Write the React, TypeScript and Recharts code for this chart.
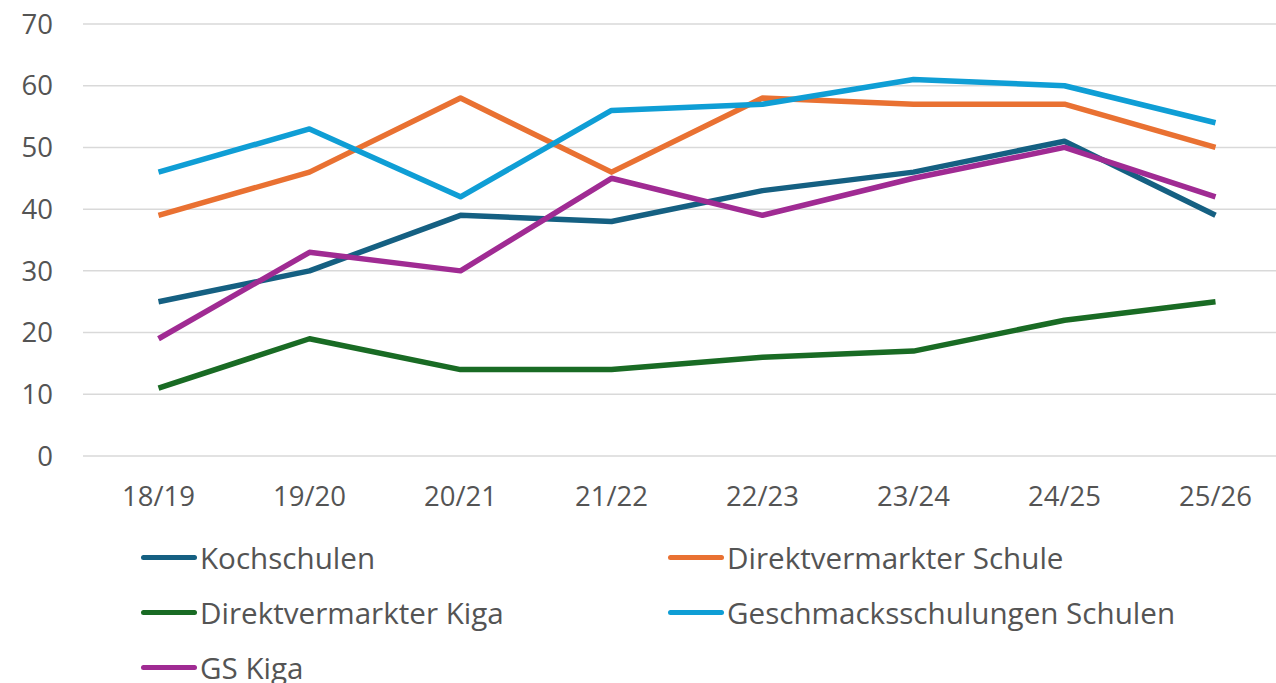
import React from "react";
import { LineChart, Line, XAxis, YAxis, CartesianGrid } from "recharts";

const categories = ["18/19", "19/20", "20/21", "21/22", "22/23", "23/24", "24/25", "25/26"];
const kochschulen = [25, 30, 39, 38, 43, 46, 51, 39];
const direktSchule = [39, 46, 58, 46, 58, 57, 57, 50];
const direktKiga = [11, 19, 14, 14, 16, 17, 22, 25];
const geschmack = [46, 53, 42, 56, 57, 61, 60, 54];
const gsKiga = [19, 33, 30, 45, 39, 45, 50, 42];
const yTicks = [0, 10, 20, 30, 40, 50, 60, 70];

const seriesDefs = [
  { key: "Kochschulen", values: kochschulen, color: "#156082" },
  { key: "Direktvermarkter Schule", values: direktSchule, color: "#E97132" },
  { key: "Direktvermarkter Kiga", values: direktKiga, color: "#196B24" },
  { key: "Geschmacksschulungen Schulen", values: geschmack, color: "#0F9ED5" },
  { key: "GS Kiga", values: gsKiga, color: "#A02B93" },
];

const data = categories.map((c, i) => {
  const row: Record<string, any> = { cat: c };
  seriesDefs.forEach((s) => (row[s.key] = s.values[i]));
  return row;
});

const FONT = "'Open Sans', sans-serif";
const TEXT = "#545454";

export default function App() {
  return (
    <div style={{ position: "absolute", left: 0, top: 0, width: 1276, height: 683, overflow: "hidden", background: "#fff" }}>
      <LineChart width={1291} height={530} data={data} margin={{ top: 24, right: 0, bottom: 14, left: 0 }}>
        <CartesianGrid vertical={false} stroke="#D9D9D9" strokeWidth={1.5} />
        <XAxis
          dataKey="cat"
          scale="band"
          axisLine={false}
          tickLine={false}
          tickMargin={24}
          height={60}
          interval={0}
          tick={{ fill: TEXT, fontSize: 27.5, fontFamily: FONT }}
        />
        <YAxis
          domain={[0, 70]}
          ticks={yTicks}
          width={83}
          axisLine={false}
          tickLine={false}
          tickMargin={24}
          tick={{ fill: TEXT, fontSize: 27.5, fontFamily: FONT }}
        />
        {seriesDefs.map((s) => (
          <Line
            key={s.key}
            dataKey={s.key}
            name={s.key}
            stroke={s.color}
            strokeWidth={5.5}
            dot={false}
            activeDot={false}
            strokeLinejoin="round"
            isAnimationActive={false}
          />
        ))}
      </LineChart>
      <div
        style={{
          position: "absolute",
          top: 530,
          left: 141,
          display: "grid",
          gridTemplateColumns: "527px 527px",
          gridAutoRows: "55px",
          fontFamily: FONT,
          fontSize: 29.6,
          color: TEXT,
        }}
      >
        {seriesDefs.map((s) => (
          <div key={s.key} style={{ display: "flex", alignItems: "center", height: 55 }}>
            <div style={{ width: 56, height: 5.5, borderRadius: 3, background: s.color, marginRight: 3, flexShrink: 0 }} />
            <span style={{ whiteSpace: "nowrap" }}>{s.key}</span>
          </div>
        ))}
      </div>
    </div>
  );
}
